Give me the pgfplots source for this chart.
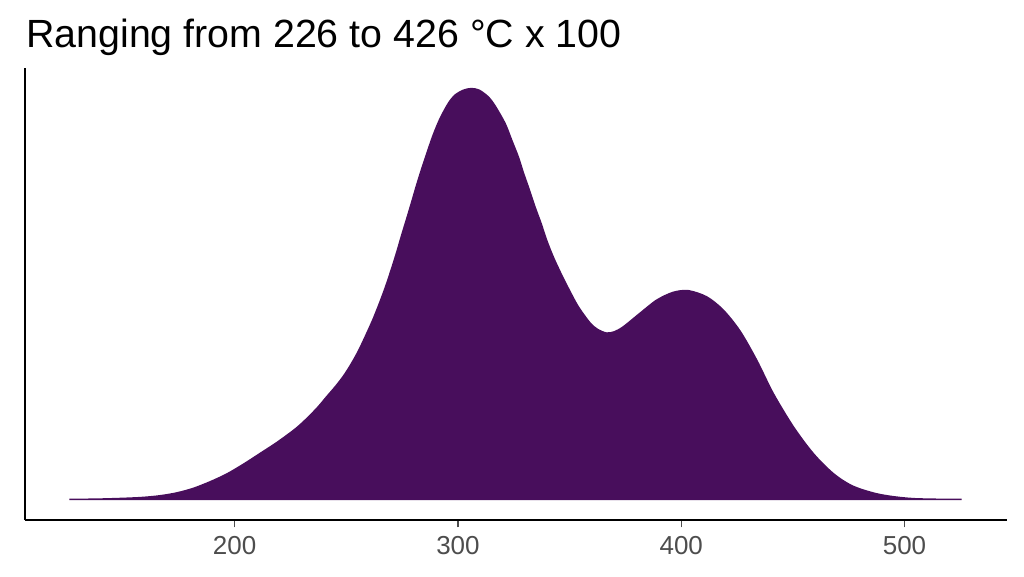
\documentclass[border=0pt]{standalone}
\usepackage{pgfplots}
\pgfplotsset{compat=1.18}
\usepackage{fontspec}
\setmainfont{Liberation Sans}
\definecolor{densfill}{HTML}{480E5C}
\definecolor{tickgray}{HTML}{4D4D4D}

\begin{document}
\begin{tikzpicture}
% 1px = 0.75pt; page 1024x576 px
\path[use as bounding box] (-18.75pt,-42pt) rectangle (749.25pt,390pt);
\begin{axis}[
    scale only axis,
    width=736.5pt,
    height=339pt,
    axis lines=left,
    axis line style={-, black, line width=1.5pt},
    xmin=106.1, xmax=545.9,
    ymin=-0.05, ymax=1.05,
    xtick={200,300,400,500},
    xticklabels={200,300,400,500},
    ytick=\empty,
    tick align=outside,
    major tick length=5.5pt,
    x tick style={tickgray, line width=1pt},
    xticklabel style={anchor=base, inner sep=0pt, yshift=-20.5pt,
        font=\fontsize{19.5pt}{20pt}\selectfont, text=tickgray},
    clip=false,
]
\addplot[fill=densfill, draw=densfill, line width=1.1pt, smooth] coordinates {
(126.0,0) (139.7,0.001) (151.7,0.003) (159.0,0.005) (166.6,0.009)
(174.1,0.016) (181.5,0.027) (189.0,0.043) (196.5,0.062) (204.0,0.086)
(211.4,0.112) (219.0,0.139) (226.3,0.168) (230.0,0.185) (233.8,0.205)
(237.5,0.226) (241.2,0.250) (245.0,0.274) (248.7,0.300) (252.0,0.328)
(255.4,0.361) (258.8,0.400) (262.1,0.440) (265.1,0.481) (267.8,0.521)
(270.3,0.562) (272.6,0.602) (274.8,0.643) (277.1,0.684) (279.3,0.724)
(281.5,0.765) (283.8,0.805) (286.3,0.846) (289.0,0.888) (292.0,0.927)
(295.7,0.964) (298.7,0.984) (302.5,0.996) (306.0,1.000) (309.5,0.996)
(313.5,0.980) (316.6,0.958) (321.1,0.915) (324.1,0.874) (327.0,0.834)
(329.3,0.795) (332.0,0.753) (334.5,0.712) (337.2,0.672) (339.7,0.631)
(342.7,0.590) (346.1,0.550) (349.9,0.509) (353.9,0.469) (359.1,0.430)
(362.5,0.414) (366.5,0.405) (370.0,0.408) (374.0,0.420) (381.5,0.453)
(389.0,0.485) (396.4,0.504) (403.2,0.508) (411.4,0.493) (418.8,0.461)
(426.3,0.410) (433.8,0.339) (441.2,0.258) (450.2,0.177) (459.1,0.112)
(468.1,0.063) (477.0,0.032) (489.0,0.012) (503.9,0.002) (525.6,0)
} \closedcycle;
\end{axis}
\node[anchor=base west, inner sep=0pt, font=\fontsize{29.5pt}{32pt}\selectfont]
    at (0.75pt,354.3pt) {Ranging from 226 to 426 °C x 100};
\end{tikzpicture}
\end{document}
